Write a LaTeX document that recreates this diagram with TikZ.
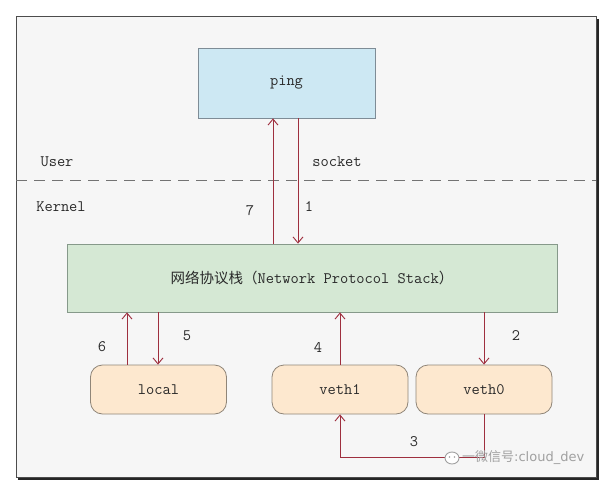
\documentclass[tikz,border=0pt]{standalone}
\usepackage{fontspec}
\setmainfont{Liberation Serif}
\newfontfamily\cjk{Noto Sans CJK SC}
\newfontfamily\wmfont{DejaVu Sans}
\usetikzlibrary{arrows.meta}
\definecolor{bgc}{HTML}{F6F6F6}
\definecolor{pingfill}{HTML}{CDE8F3}
\definecolor{pingdraw}{HTML}{7E8C96}
\definecolor{stackfill}{HTML}{D5E8D4}
\definecolor{stackdraw}{HTML}{86998A}
\definecolor{devfill}{HTML}{FDE8CF}
\definecolor{devdraw}{HTML}{8F8578}
\definecolor{arr}{HTML}{9E2F3E}
\definecolor{txt}{HTML}{2A2A2A}
\definecolor{wm}{HTML}{A0A0A0}
\tikzset{
  boxbase/.style={draw, line width=0.8pt, text=txt, font=\ttfamily\fontsize{16}{18}\selectfont, inner sep=0pt},
  pingbox/.style={boxbase, fill=pingfill, draw=pingdraw, minimum width=177pt, minimum height=70pt},
  stackbox/.style={boxbase, fill=stackfill, draw=stackdraw, minimum width=490pt, minimum height=68pt},
  devbox/.style={boxbase, fill=devfill, draw=devdraw, rounded corners=12pt, minimum width=136pt, minimum height=49pt},
  flow/.style={draw=arr, line width=0.9pt, -{Straight Barb[length=6pt,width=10pt,line width=0.9pt]}},
  lbl/.style={text=txt, font=\ttfamily\fontsize{16}{18}\selectfont, inner sep=0pt},
}
\begin{document}
\begin{tikzpicture}[x=1pt,y=-1pt]
\useasboundingbox (0,0) rectangle (605,484);
\fill[white] (0,0) rectangle (605,484);
% frame with shadow
\fill[black!85] (18,19) rectangle (599,480);
\fill[bgc, draw=black!70, line width=1pt] (16,17) rectangle (596,477);
% dashed separator
\draw[black!55, line width=0.8pt, dash pattern=on 11pt off 7pt] (16,180) -- (596,180);
% nodes
\node[pingbox] (ping) at (286.5,83) {ping};
\node[stackbox] (stack) at (312,278) {{\cjk\fontsize{14.5}{16}\selectfont 网络协议栈（}Network Protocol Stack{\cjk\fontsize{14.5}{16}\selectfont ）}};
\node[devbox] (local) at (158.5,389.5) {local};
\node[devbox] (veth1) at (340,389.5) {veth1};
\node[devbox] (veth0) at (484,389.5) {veth0};
% labels
\node[lbl] (user) at (57,162) {User};
\node[lbl] (sock) at (337,162) {socket};
\node[lbl] (kern) at (61,207) {Kernel};
\node[lbl] (n7) at (250,211) {7};
\node[lbl] (n1) at (309,207) {1};
\node[lbl] (n6) at (102,347) {6};
\node[lbl] (n5) at (187,336) {5};
\node[lbl] (n4) at (318,347) {4};
\node[lbl] (n2) at (516,336) {2};
\node[lbl] (n3) at (414,442) {3};
% connectors
\draw[flow] (stack.north -| 273,0) -- (ping.south -| 273,0);
\draw[flow] (ping.south -| 298,0) -- (stack.north -| 298,0);
\draw[flow] (local.north -| 127,0) -- (stack.south -| 127,0);
\draw[flow] (stack.south -| 158,0) -- (local.north -| 158,0);
\draw[flow] (veth1.north) -- (veth1.north |- stack.south);
\draw[flow] (stack.south -| veth0.north) -- (veth0.north);
\coordinate (c3a) at (484,457);
\coordinate (c3b) at (340,457);
\draw[flow] (veth0.south) -- (c3a) -- (c3b) -- (veth1.south);
% watermark
\node[inner sep=0pt] (wmicon) at (452,458) {\tikz[x=1pt,y=1pt]{\draw[wm, line width=0.9pt, fill=white] (0,0) ellipse (7pt and 6pt); \fill[wm] (-2.5,1) circle (0.9pt) (2.5,1) circle (0.9pt);}};
\node[inner sep=0pt, text=wm, font=\wmfont\fontsize{13}{15}\selectfont, anchor=west] (wmtext) at (462,458) {{\cjk 一微信号}:cloud\_dev};
\end{tikzpicture}
\end{document}
